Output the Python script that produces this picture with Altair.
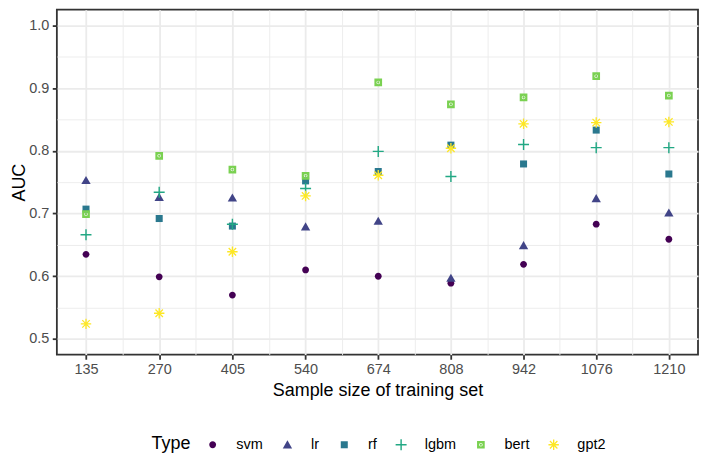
import altair as alt
import pandas as pd

sizes = [135, 270, 405, 540, 674, 808, 942, 1076, 1210]
types = ["svm", "lr", "rf", "lgbm", "bert", "gpt2"]
colors = ["#440154", "#414487", "#2A788E", "#22A884", "#7AD151", "#FDE725"]

svm = [0.635, 0.599, 0.570, 0.610, 0.600, 0.589, 0.619, 0.683, 0.659]
lr = [0.753, 0.726, 0.725, 0.679, 0.688, 0.597, 0.649, 0.724, 0.701]
rf = [0.707, 0.692, 0.680, 0.752, 0.767, 0.809, 0.779, 0.833, 0.763]
lgbm = [0.666, 0.734, 0.683, 0.740, 0.799, 0.759, 0.810, 0.805, 0.805]
bert = [0.699, 0.792, 0.770, 0.760, 0.909, 0.874, 0.885, 0.919, 0.888]
gpt2 = [0.524, 0.541, 0.639, 0.728, 0.761, 0.804, 0.843, 0.845, 0.846]

y_major = [0.5, 0.6, 0.7, 0.8, 0.9, 1.0]
y_minor = [0.55, 0.65, 0.75, 0.85, 0.95]

series = {"svm": svm, "lr": lr, "rf": rf, "lgbm": lgbm, "bert": bert, "gpt2": gpt2}
rows = [{"size": s, "AUC": v, "Type": t}
        for t in types for s, v in zip(sizes, series[t])]
df = pd.DataFrame(rows)

x_minor = [(a + b) / 2 for a, b in zip(sizes[:-1], sizes[1:])]
x_ticks = sorted(sizes + x_minor)
y_ticks = sorted(y_major + y_minor)

# symbol shapes (ggplot pch 16, 17, 15, 3, bert square, 8)
circle = "M0.62,0A0.62,0.62 0 1,1 -0.62,0A0.62,0.62 0 1,1 0.62,0Z"
triangle = "M0,-0.8L0.85,0.68L-0.85,0.68Z"
square = "M-0.64,-0.64H0.64V0.64H-0.64Z"
plus = "M-1,-0.13H-0.13V-1H0.13V-0.13H1V0.13H0.13V1H-0.13V0.13H-1Z"
bert_sq = ("M-0.7,-0.7H0.7V0.7H-0.7Z"
           "M0,-0.32A0.32,0.32 0 1,0 0,0.32A0.32,0.32 0 1,0 0,-0.32Z"
           "M0,-0.2A0.2,0.2 0 1,1 0,0.2A0.2,0.2 0 1,1 0,-0.2Z")
aster = ("M-0.95,-0.12H0.95V0.12H-0.95Z"
         "M-0.12,-0.95H0.12V0.95H-0.12Z"
         "M-0.76,-0.6L-0.6,-0.76L0.76,0.6L0.6,0.76Z"
         "M-0.76,0.6L0.6,-0.76L0.76,-0.6L-0.6,0.76Z")
shapes = [circle, triangle, square, plus, bert_sq, aster]

x_test = "indexof([" + ",".join(str(s) for s in sizes) + "], datum.value) >= 0"
y_test = "abs(datum.value*10 - round(datum.value*10)) < 0.001"

GRID = "#EBEBEB"
DARK = "#333333"
FONT = "Liberation Sans"

x_axis = alt.Axis(
    values=x_ticks,
    title="Sample size of training set",
    labelExpr=f"({x_test}) ? format(datum.value, 'd') : ''",
    labelOverlap=False,
    labelFlush=False,
    tickOpacity={"condition": {"test": x_test, "value": 1}, "value": 0},
    gridWidth={"condition": {"test": x_test, "value": 1.8}, "value": 0.9},
    titlePadding=5,
)
y_axis = alt.Axis(
    values=y_ticks,
    title="AUC",
    labelExpr=f"({y_test}) ? format(datum.value, '.1f') : ''",
    labelOverlap=False,
    labelFlush=False,
    tickOpacity={"condition": {"test": y_test, "value": 1}, "value": 0},
    gridWidth={"condition": {"test": y_test, "value": 1.8}, "value": 0.9},
    titlePadding=0,
)

chart = alt.Chart(df).mark_point(
    filled=True, opacity=1, size=121, strokeWidth=0
).encode(
    x=alt.X("size:Q", axis=x_axis,
            scale=alt.Scale(domain=[81.25, 1263.75], nice=False, zero=False)),
    y=alt.Y("AUC:Q", axis=y_axis,
            scale=alt.Scale(domain=[0.475, 1.025], nice=False, zero=False)),
    color=alt.Color("Type:N", scale=alt.Scale(domain=types, range=colors),
                    legend=alt.Legend(
                        orient="none", legendX=95, legendY=429,
                        direction="horizontal", titleOrient="left",
                        title="Type")),
    shape=alt.Shape("Type:N", scale=alt.Scale(domain=types, range=shapes)),
).properties(
    width=643, height=346,
    autosize=alt.AutoSizeParams(type="none"),
    padding={"left": 49, "top": 1, "right": 2, "bottom": 102},
).configure(
    font=FONT,
).configure_view(
    stroke=DARK, strokeWidth=1.8,
).configure_axis(
    domain=False,
    gridColor=GRID,
    tickColor=DARK, tickWidth=1.8, tickSize=4.6,
    labelColor="#4D4D4D", labelFontSize=14.5, labelFont=FONT, labelPadding=3.5,
    titleColor="#000000", titleFontSize=18, titleFont=FONT, titleFontWeight="normal",
).configure_legend(
    titleFontSize=18, titleFont=FONT, titleFontWeight="normal", titleColor="#000000",
    labelFontSize=14.5, labelFont=FONT, labelColor="#000000",
    symbolSize=121, symbolStrokeWidth=0, symbolOpacity=1,
    labelOffset=16.5, columnPadding=17, titlePadding=14,
)

chart.save("out.html", embed_options={"renderer": "svg", "actions": False})
